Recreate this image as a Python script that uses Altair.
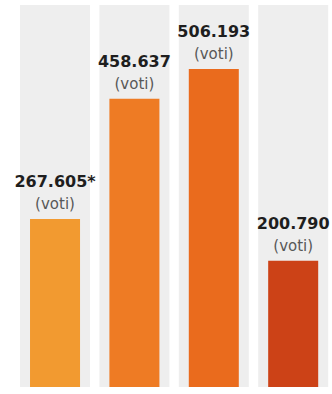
import altair as alt
import pandas as pd

categories = ["1", "2", "3", "4"]
values = [267605, 458637, 506193, 200790]
labels = ["267.605*", "458.637", "506.193", "200.790"]
sublabels = ["(voti)", "(voti)", "(voti)", "(voti)"]
colors = ["#f29a30", "#ee7b24", "#ea6b1d", "#cc4217"]

df = pd.DataFrame({
    "cat": categories,
    "value": values,
    "label": labels,
    "sub": sublabels,
    "color": colors,
})

xscale = alt.Scale(domain=categories, paddingInner=0.37, paddingOuter=0.276, align=0.685)
x = alt.X("cat:N", scale=xscale, axis=None)
yscale = alt.Scale(domain=[0, 616000])

base = alt.Chart(df)

background = base.mark_bar(color="#eeeeee", width=alt.RelativeBandSize(1.4)).encode(
    x=x, y=alt.value(5), y2=alt.value(390)
)

bars = base.mark_bar().encode(
    x=x,
    y=alt.Y("value:Q", scale=yscale, axis=None),
    color=alt.Color("color:N", scale=None, legend=None),
)

num = base.mark_text(
    font="DejaVu Sans", fontWeight="bold", fontSize=16, color="#1e1e1e",
    baseline="middle", dy=-37,
).encode(x=x, y=alt.Y("value:Q", scale=yscale, axis=None), text="label:N")

sub = base.mark_text(
    font="DejaVu Sans", fontSize=15, color="#585858",
    baseline="middle", dy=-15,
).encode(x=x, y=alt.Y("value:Q", scale=yscale, axis=None), text="sub:N")

chart = alt.layer(background, bars, num, sub).properties(
    width=332, height=387, padding=0, autosize="none", background="white"
).configure_view(stroke=None)

chart.save("out.html", embed_options={"renderer": "svg", "actions": False})
